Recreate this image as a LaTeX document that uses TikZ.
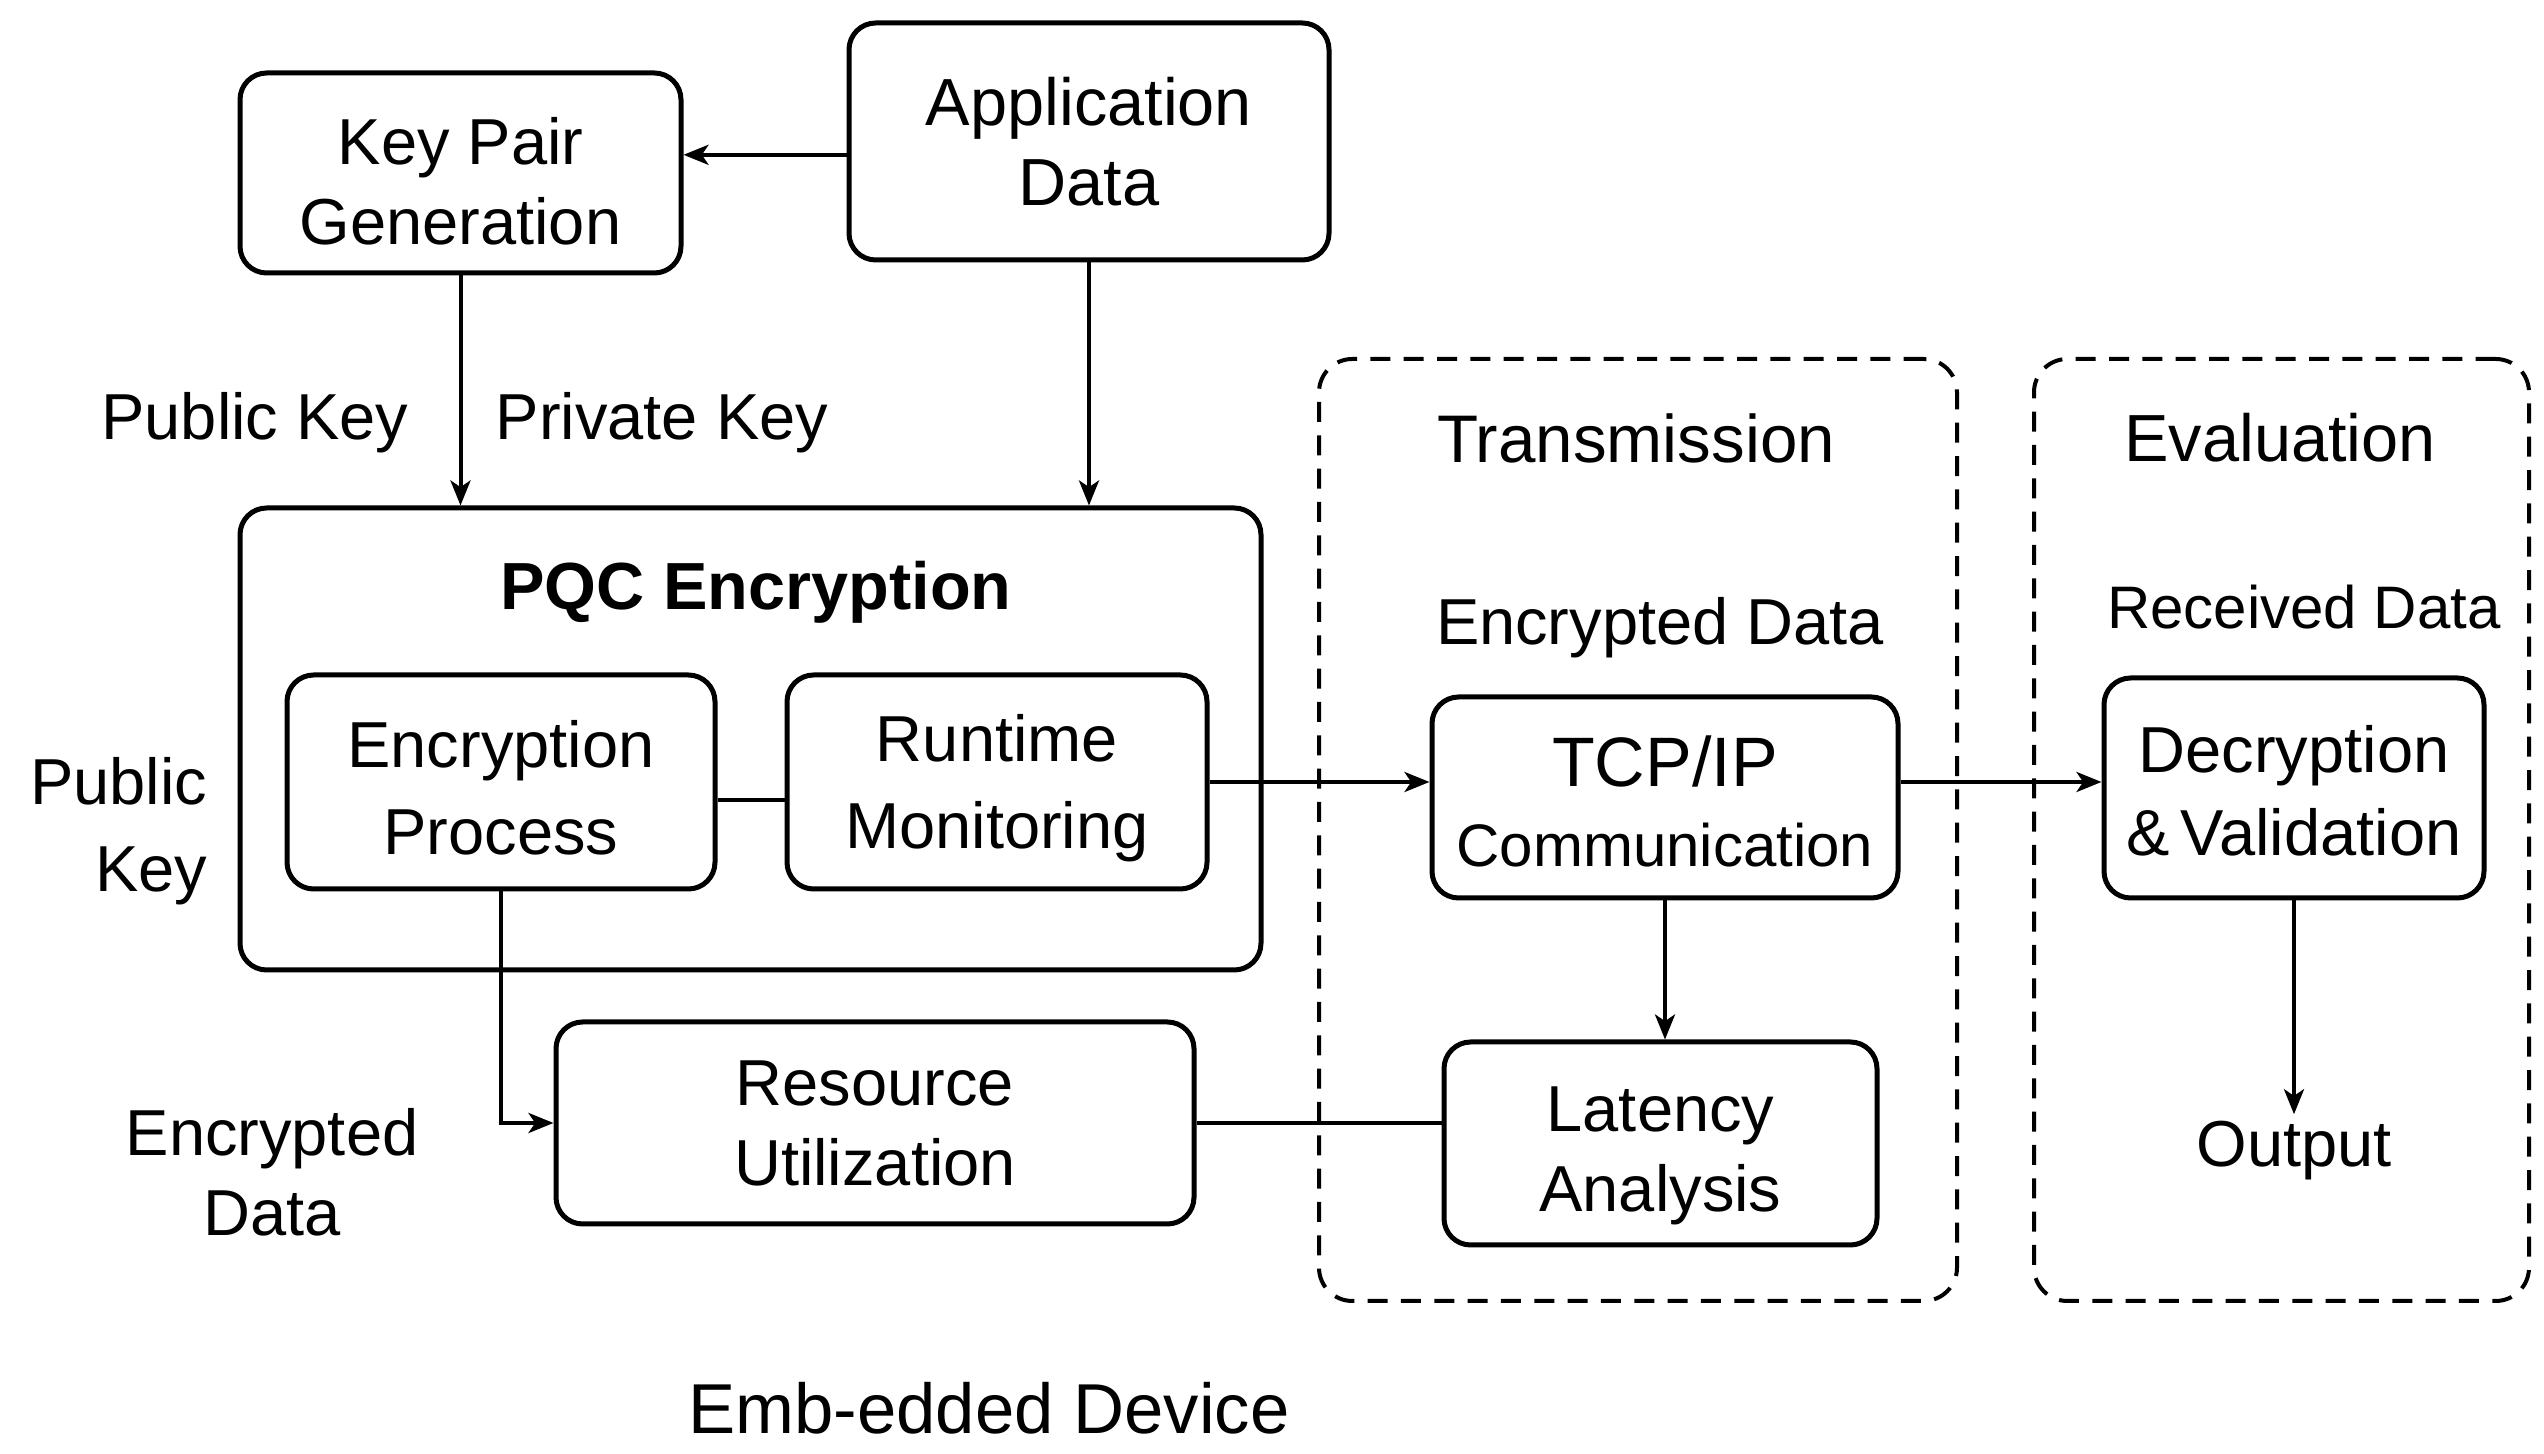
\documentclass[tikz,border=0pt]{standalone}
\usepackage{fontspec}
\setmainfont{Liberation Sans}
\usetikzlibrary{arrows.meta}
\begin{document}
\begin{tikzpicture}[x=0.3pt,y=-0.3pt,
  box/.style={draw, line width=1.5pt, rounded corners=8pt, inner sep=0pt},
  arr/.style={line width=1.2pt, -{Stealth[length=7.5pt,width=6pt,inset=2pt]}},
  ln/.style={line width=1.3pt},
  grp/.style={draw, line width=1.2pt, dash pattern=on 6pt off 4pt, rounded corners=10pt, inner sep=0pt},
  lbl/.style={inner sep=0pt, align=center},
  font=\fontsize{19.5}{24}\selectfont]
\useasboundingbox (0,0) rectangle (2544,1454);

% group frames
\node[grp, minimum width=191.4pt, minimum height=282.6pt] (trans) at (1638,830) {};
\node[grp, minimum width=148.5pt, minimum height=282.6pt] (eval) at (2281.5,830) {};

% boxes
\node[box, minimum width=132.3pt, minimum height=60pt] (kp) at (460.5,173) {};
\node[lbl] (kpt) at (460.5,181) {Key Pair\\Generation};
\node[box, minimum width=144pt, minimum height=71.1pt] (app) at (1089,141.5) {};
\node[lbl, font=\fontsize{20}{24}\selectfont] (appt) at (1089,141.5) {Application\\Data};
\node[box, minimum width=306.3pt, minimum height=138.6pt] (pqc) at (750.5,739) {};
\node[lbl, font=\fontsize{20}{24}\selectfont\bfseries] (pqct) at (756,592) {PQC Encryption};
\node[box, minimum width=128.4pt, minimum height=64.2pt] (enc) at (501,782) {};
\node[lbl, font=\fontsize{19.5}{26}\selectfont] (enct) at (501,788) {Encryption\\Process};
\node[box, minimum width=126pt, minimum height=64.2pt] (run) at (997,782) {};
\node[lbl, font=\fontsize{19.5}{26}\selectfont] (runt) at (997,788) {Runtime\\Monitoring};
\node[box, minimum width=191.4pt, minimum height=60.6pt] (res) at (875,1123) {};
\node[lbl] (rest) at (875,1123) {Resource\\Utilization};
\node[box, minimum width=129.9pt, minimum height=60.9pt] (lat) at (1660.5,1143.5) {};
\node[lbl] (latt) at (1660.5,1156) {Latency\\Analysis};
\node[box, minimum width=139.8pt, minimum height=60.3pt] (tcp) at (1665,797.5) {};
\node[lbl] (tcpt) at (1665,801.5) {{\fontsize{21}{24}\selectfont TCP/IP}\\{\fontsize{18}{24}\selectfont Communication}};
\node[box, minimum width=114pt, minimum height=66pt] (dec) at (2294,788) {};
\node[lbl, font=\fontsize{19.5}{25}\selectfont] (dect) at (2294,790.5) {Decryption\\\&\,Validation};

% labels
\node[lbl] (pubk) at (255,423) {Public Key};
\node[lbl] (privk) at (662,423) {Private Key};
\node[lbl, align=right, anchor=east, font=\fontsize{19.5}{26}\selectfont] (pubk2) at (208,831) {Public\\Key};
\node[lbl] (encd) at (272,1172) {Encrypted\\Data};
\node[lbl, font=\fontsize{20.2}{22}\selectfont] (transt) at (1636,438) {Transmission};
\node[lbl] (encd2) at (1660,628) {Encrypted Data};
\node[lbl, font=\fontsize{20}{22}\selectfont] (evalt) at (2280,438) {Evaluation};
\node[lbl, font=\fontsize{18}{22}\selectfont] (recd) at (2304,607) {Received Data};
\node[lbl, inner sep=2pt] (out) at (2294,1151) {Output};
\node[lbl, font=\fontsize{21.2}{24}\selectfont] (emb) at (989,1408) {Emb-edded Device};

% connectors
\draw[arr] ([yshift=-4pt]app.west) -- ([yshift=-4pt]app.west -| kp.east);
\draw[arr] (kp.south) -- (kp.south |- pqc.north);
\draw[arr] (app.south) -- (app.south |- pqc.north);
\draw[ln] ([yshift=-5.4pt]enc.east) -- ([yshift=-5.4pt]enc.east -| run.west);
\draw[arr] (run.east) -- (run.east -| tcp.west);
\draw[arr] (tcp.east |- run.east) -- (dec.west |- run.east);
\draw[arr] (enc.south) |- (res.west);
\draw[ln] (res.east) -- (res.east -| lat.west);
\draw[arr] (tcp.south) -- (tcp.south |- lat.north);
\draw[arr] (dec.south) -- (dec.south |- out.north);
\end{tikzpicture}
\end{document}
